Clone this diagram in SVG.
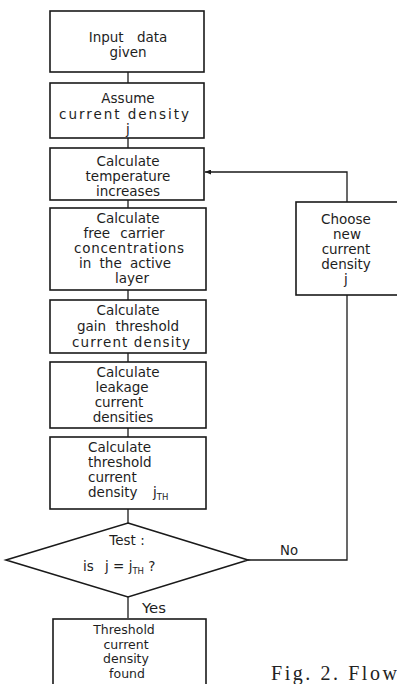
<svg xmlns="http://www.w3.org/2000/svg" width="397" height="684" viewBox="0 0 397 684">
<defs>
<style>
.box{fill:#fff;stroke:#1a1a1a;stroke-width:1.6}
.ln{fill:none;stroke:#1a1a1a;stroke-width:1.3}
text{font-family:"DejaVu Sans","Liberation Sans",sans-serif;font-size:13.5px;fill:#1e1e1e}
.c{text-anchor:middle}
.sm{font-size:12.5px}
.sub{font-size:8.5px}
.cap{font-family:"Liberation Serif","Times New Roman",serif;font-size:20px;fill:#222}
</style>
<marker id="ah" markerWidth="7" markerHeight="5" refX="6" refY="2.5" orient="auto" markerUnits="userSpaceOnUse">
<path d="M0,0 L6,2.5 L0,5 z" fill="#1a1a1a"/>
</marker>
</defs>
<rect width="397" height="684" fill="#fff"/>

<g id="connectors">
<line class="ln" x1="128" y1="72" x2="128" y2="83"/>
<line class="ln" x1="128" y1="138" x2="128" y2="148"/>
<line class="ln" x1="128" y1="200" x2="128" y2="208"/>
<line class="ln" x1="128" y1="290" x2="128" y2="300"/>
<line class="ln" x1="128" y1="353" x2="128" y2="362"/>
<line class="ln" x1="128" y1="428" x2="128" y2="437"/>
<line class="ln" x1="128" y1="509" x2="128" y2="523"/>
<line class="ln" x1="128" y1="597" x2="128" y2="618"/>
<polyline class="ln" points="248,560 347,560 347,295"/>
<polyline class="ln" points="347,202 347,172 205,172" marker-end="url(#ah)"/>
<text x="280" y="555" textLength="18" lengthAdjust="spacingAndGlyphs">No</text>
<text x="142" y="613" textLength="24" lengthAdjust="spacingAndGlyphs">Yes</text>
</g>

<g id="n1">
<rect class="box" x="50" y="11" width="154" height="61"/>
<text class="c" x="128" y="42" word-spacing="9">Input data</text>
<text class="c" x="128" y="57">given</text>
</g>

<g id="n2">
<rect class="box" x="50" y="83" width="154" height="55"/>
<text class="c" x="128" y="103">Assume</text>
<text class="c" x="124" y="118.5" textLength="130" lengthAdjust="spacing">current density</text>
<text class="c" x="128" y="134">j</text>
</g>

<g id="n3">
<rect class="box" x="50" y="148" width="154" height="52"/>
<text class="c" x="128" y="166">Calculate</text>
<text class="c" x="128" y="181">temperature</text>
<text class="c" x="128" y="196">increases</text>
</g>

<g id="n4">
<rect class="box" x="50" y="208" width="156" height="82"/>
<text class="c" x="128" y="223">Calculate</text>
<text class="c" x="124" y="238" word-spacing="6">free carrier</text>
<text class="c" x="129" y="253" textLength="110" lengthAdjust="spacing">concentrations</text>
<text class="c" x="125" y="268" word-spacing="4">in the active</text>
<text class="c" x="132" y="283">layer</text>
</g>

<g id="n5">
<rect class="box" x="50" y="300" width="156" height="53"/>
<text class="c" x="128" y="315">Calculate</text>
<text class="c" x="128" y="331" word-spacing="5">gain threshold</text>
<text class="c" x="131" y="347" textLength="118" lengthAdjust="spacing">current density</text>
</g>

<g id="n6">
<rect class="box" x="50" y="362" width="156" height="66"/>
<text class="c" x="128" y="377">Calculate</text>
<text class="c" x="122" y="392">leakage</text>
<text class="c" x="119" y="407">current</text>
<text class="c" x="123" y="422">densities</text>
</g>

<g id="n7">
<rect class="box" x="50" y="437" width="156" height="72"/>
<text x="88" y="452">Calculate</text>
<text x="88" y="467">threshold</text>
<text x="88" y="482">current</text>
<text x="88" y="497">density</text>
<text x="153" y="497">j<tspan class="sub" dy="3">TH</tspan></text>
</g>

<g id="n8">
<polygon class="box" points="128,523 248,560 128,597 6,560"/>
<text class="c" x="127" y="545">Test :</text>
<text x="83" y="571">is</text>
<text x="105" y="571">j = j<tspan class="sub" dy="3">TH</tspan><tspan dy="-3"> ?</tspan></text>
</g>

<g id="n9">
<rect class="box" x="53" y="619" width="153" height="70"/>
<text class="c sm" x="124" y="634">Threshold</text>
<text class="c sm" x="126" y="648.5">current</text>
<text class="c sm" x="126" y="663">density</text>
<text class="c sm" x="127" y="677.5">found</text>
</g>

<g id="n10">
<rect class="box" x="296" y="202" width="110" height="93"/>
<text class="c" x="346" y="224">Choose</text>
<text class="c" x="347" y="239">new</text>
<text class="c" x="346" y="254">current</text>
<text class="c" x="346" y="269">density</text>
<text class="c" x="346" y="284">j</text>
</g>

<text class="cap" x="271" y="680" textLength="126" lengthAdjust="spacing">Fig. 2. Flow</text>
</svg>
